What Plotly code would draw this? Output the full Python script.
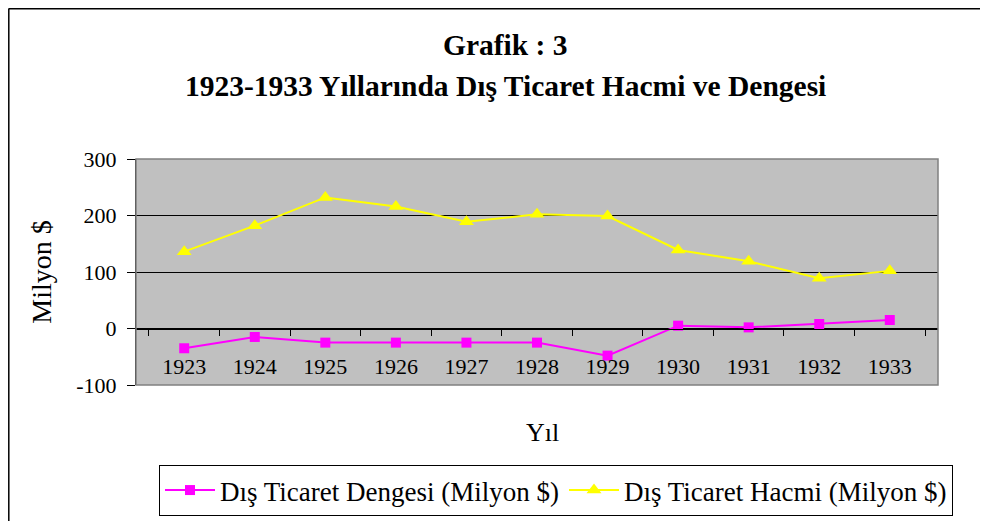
import plotly.graph_objects as go

years = ["1923", "1924", "1925", "1926", "1927", "1928", "1929", "1930", "1931", "1932", "1933"]
denge = [-35, -15, -25, -25, -25, -25, -48, 5, 2, 8, 15]
hacim = [136, 182, 232, 216, 189, 202, 199, 139, 119, 89, 102]
ytick_vals = [-100, 0, 100, 200, 300]
ytick_text = ["-100", "0", "100", "200", "300"]
title_lines = ["Grafik : 3", "1923-1933 Yıllarında Dış Ticaret Hacmi ve Dengesi"]

OFF = 8  # page body margin
W, H = 988, 521
# plot area in page pixels: x 136..938, y 159..385
L, T = 136 - OFF, 159 - OFF
R, B = W - (938 - OFF), H - (385 - OFF)
pw, ph = W - L - R, H - T - B

def px_x(p):
    return (p - OFF - L) / pw

def px_y(p):
    return (H - B - (p - OFF)) / ph

FONT = "Liberation Serif, Times New Roman, serif"

fig = go.Figure()
fig.add_trace(go.Scatter(
    x=years, y=denge, mode="lines+markers",
    name="Dış Ticaret Dengesi (Milyon $)",
    line=dict(color="#FF00FF", width=2),
    marker=dict(symbol="square", size=10, color="#FF00FF"),
))
fig.add_trace(go.Scatter(
    x=years, y=hacim, mode="lines+markers",
    name="Dış Ticaret Hacmi (Milyon $)",
    line=dict(color="#FFFF00", width=2),
    marker=dict(symbol="triangle-up", size=13, color="#FFFF00"),
))

ymin, ymax = -100, 300
fig.update_layout(
    width=W, height=H,
    margin=dict(l=L, r=R, t=T, b=B, autoexpand=False),
    paper_bgcolor="white",
    plot_bgcolor="#C0C0C0",
    font=dict(family=FONT, color="black", size=22),
    showlegend=True,
    xaxis=dict(
        type="category",
        anchor="free",
        position=(0 - ymin) / (ymax - ymin),
        showline=True, linecolor="black", linewidth=1,
        ticks="outside", ticklen=6, tickcolor="black",
        tickson="boundaries",
        ticklabelstandoff=18,
        showgrid=False,
        tickfont=dict(size=22),
        title=dict(text=""),
    ),
    yaxis=dict(
        range=[ymin, ymax],
        tickvals=ytick_vals, ticktext=ytick_text,
        showline=True, linecolor="black", linewidth=1,
        ticks="outside", ticklen=8, tickcolor="black",
        ticklabelstandoff=6,
        showgrid=True, gridcolor="black", gridwidth=1,
        zeroline=False,
        tickfont=dict(size=22),
        title=dict(text="Milyon $", font=dict(size=28), standoff=16),
    ),
    legend=dict(
        orientation="h",
        x=px_x(556), xanchor="center",
        y=px_y(465), yanchor="top",
        bordercolor="black", borderwidth=1,
        bgcolor="white",
        font=dict(size=27),
        itemwidth=50,
    ),
)

# Title lines
for txt, py in zip(title_lines, [45, 86]):
    fig.add_annotation(
        text="<b>" + txt + "</b>", xref="paper", yref="paper",
        x=px_x(505), y=px_y(py), xanchor="center", yanchor="middle",
        showarrow=False, font=dict(size=29.5, family=FONT),
    )

# X axis title "Yıl"
fig.add_annotation(
    text="Yıl", xref="paper", yref="paper",
    x=px_x(542), y=px_y(432), xanchor="center", yanchor="middle",
    showarrow=False, font=dict(size=26, family=FONT),
)

# plot area border (gray)
fig.add_shape(type="rect", xref="paper", yref="paper", x0=0, x1=1, y0=0, y1=1,
              line=dict(color="#808080", width=1.5), layer="above")
# outer chart border (top and left visible)
fig.add_shape(type="line", xref="paper", yref="paper",
              x0=px_x(8.5), x1=px_x(1000), y0=px_y(8.8), y1=px_y(8.8),
              line=dict(color="black", width=1.5))
fig.add_shape(type="line", xref="paper", yref="paper",
              x0=px_x(8.8), x1=px_x(8.8), y0=px_y(8.8), y1=px_y(540),
              line=dict(color="black", width=1.5))

fig.write_html("out.html")
